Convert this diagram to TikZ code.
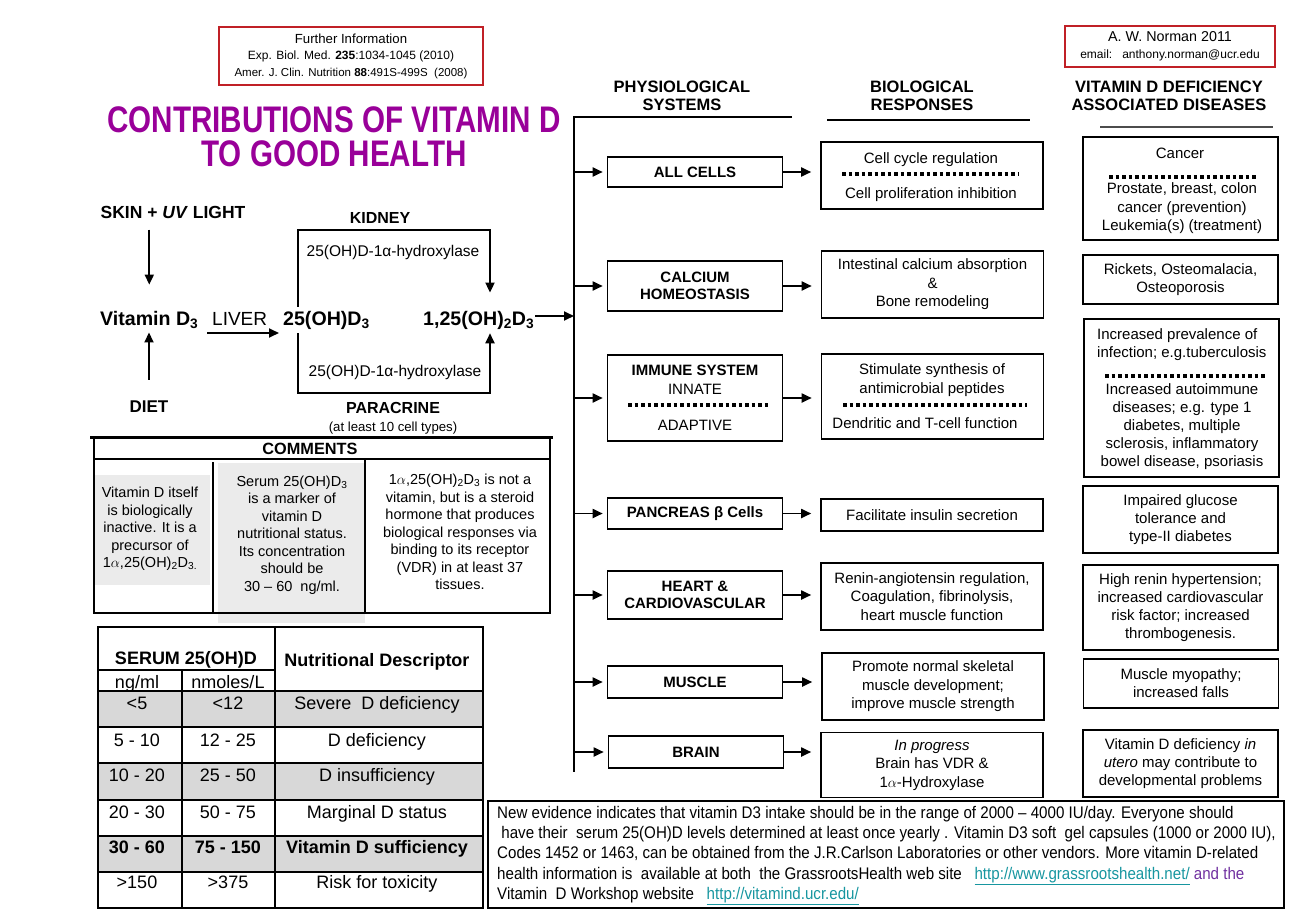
\documentclass[tikz,border=0pt]{standalone}
\usepackage{fontspec}
\setmainfont{Liberation Sans}
\newfontfamily\narrowfont[FakeStretch=0.8]{Liberation Sans}
\newfontfamily\notefont[FakeStretch=0.9]{Liberation Sans}
\usepackage{tikz}
\usetikzlibrary{arrows.meta, positioning, calc}
\definecolor{titlepurple}{RGB}{153,0,153}
\definecolor{framered}{RGB}{192,32,38}
\definecolor{linkteal}{RGB}{23,150,160}
\definecolor{notepurple}{RGB}{112,48,160}
\definecolor{rowgray}{RGB}{216,216,216}
\definecolor{cellgray}{RGB}{235,235,235}
\newcommand\dsub[1]{\textsubscript{#1}}
\newcommand\fsz[2]{\fontsize{#1}{#2}\selectfont}

\begin{document}
\begin{tikzpicture}[x=1pt, y=-1pt,
    sysbox/.style={draw, line width=1.6pt, minimum width=175pt, inner sep=0pt, align=center, font=\fsz{15}{17.5}\bfseries},
    respbox/.style={draw, line width=1.6pt, minimum width=222pt, inner sep=0pt, align=center, font=\fsz{15}{18.5}},
    disbox/.style={draw, line width=1.6pt, minimum width=195pt, inner sep=0pt, align=center, font=\fsz{15}{18}},
    feed/.style={line width=1.8pt, -{Triangle[length=10pt, width=9pt]}},
    dotrule/.style={line width=3.5pt, dash pattern=on 3.5pt off 3pt},
    colhead/.style={align=center, font=\fsz{16.5}{17.5}\bfseries},
    ln/.style={anchor=base, inner sep=0pt, font=\fsz{15}{18}},
    chem/.style={anchor=base west, inner sep=0pt, font=\fsz{19.6}{21}\bfseries},
    note/.style={align=center, inner sep=0pt, font=\fsz{14.5}{17.5}},
    cell/.style={anchor=base, inner sep=0pt, font=\fsz{18}{20}},
  ]
  \fill[white] (0,0) rectangle (1309,918);
  \useasboundingbox (0,0) rectangle (1309,918);

  % References and author
  \node[draw=framered, line width=2pt, minimum width=264pt, minimum height=58pt, align=center, font=\fsz{12}{16.5}] (refs) at (351,56)
    {{\fsz{13.2}{16.5}Further Information}\\Exp. Biol. Med. \textbf{235}:1034-1045 (2010)\\{\fsz{11.5}{16.5}Amer. J. Clin. Nutrition \textbf{88}:491S-499S\ \ (2008)}};
  \node[draw=framered, line width=2pt, minimum width=210pt, minimum height=41pt, align=center, font=\fsz{12}{17}] (author) at (1170,46)
    {{\fsz{14.3}{17}A. W. Norman 2011}\\email:\ \ \ anthony.norman@ucr.edu};

  % Title
  \node[align=center, text=titlepurple, font=\narrowfont\bfseries\fsz{37}{34}] (title) at (334,137)
    {CONTRIBUTIONS OF VITAMIN D\\TO GOOD HEALTH};

  % Column headings
  \node[colhead] (hsys) at (682,96) {PHYSIOLOGICAL\\SYSTEMS};
  \node[colhead] (hresp) at (922,96) {BIOLOGICAL\\RESPONSES};
  \node[colhead] (hdis) at (1169,96) {VITAMIN D DEFICIENCY\\ASSOCIATED DISEASES};
  \draw[line width=1.4pt] (827,120) -- (1030,120);
  \draw[line width=1.2pt, black!70] (1100,127) -- (1273,127);

  % Metabolism
  \node[font=\fsz{17.5}{20}\bfseries] (skin) at (173,212) {SKIN + \textit{UV} LIGHT};
  \node[chem] (vitd) at (100,325) {Vitamin D\dsub{3}};
  \node[anchor=base west, inner sep=0pt, font=\fsz{19}{21}] (liver) at (212,325) {LIVER};
  \node[chem] (hydr25) at (283,325) {25(OH)D\dsub{3}};
  \node[chem] (dihyd) at (423,325) {1,25(OH)\dsub{2}D\dsub{3}};
  \node[font=\fsz{17}{20}\bfseries] (diet) at (149,407) {DIET};
  \node[font=\fsz{16}{18}\bfseries] (kidney) at (380,218) {KIDNEY};
  \node[font=\fsz{15.5}{18}] (hydroxK) at (393,252) {25(OH)D-1α-hydroxylase};
  \node[font=\fsz{15.5}{18}] (hydroxP) at (395,372) {25(OH)D-1α-hydroxylase};
  \node[font=\fsz{16}{18}\bfseries] (paracrine) at (393,408) {PARACRINE};
  \node[font=\fsz{13.2}{15}] (celltypes) at (393,428) {(at least 10 cell types)};

  \coordinate (kidL) at (298,230);
  \coordinate (kidR) at (490,230);
  \coordinate (parL) at (298,393);
  \coordinate (parR) at (490,393);
  \coordinate (busTop) at (574,117);
  \coordinate (busBot) at (574,772);

  \draw[feed, shorten <=8pt, shorten >=26pt] (vitd.north |- skin.south) -- (vitd.north);
  \draw[feed, shorten <=18pt, shorten >=4pt] (diet.north) -- (diet.north |- vitd.south);
  \path (liver.base west) ++(-5,8) coordinate (livA);
  \draw[feed, shorten >=4pt] (livA) -- (livA -| hydr25.west);
  \draw[feed, shorten <=4pt, shorten >=18pt] (kidL |- hydr25.north) -- (kidL) -- (kidR) -- (kidR |- dihyd.north);
  \draw[feed, shorten <=4pt, shorten >=4pt] (parL |- hydr25.south) -- (parL) -- (parR) -- (parR |- dihyd.south);
  \path (dihyd.base east) ++(1,-9) coordinate (dihOut);
  \draw[feed] (dihOut) -- (dihOut -| busTop);
  \draw[line width=1.6pt] (792,117) -- (busTop) -- (busBot);

  % Comments
  \fill[cellgray] (95,475) rectangle (210,585);
  \fill[cellgray] (218,463) rectangle (365,623);
  \draw[line width=3pt] (90,437) -- (553,437);
  \draw[line width=1.6pt] (94,437) -- (94,613) -- (550,613) -- (550,437);
  \draw[line width=1.6pt] (94,459) -- (550,459);
  \draw[line width=1.6pt] (213,462) -- (213,612);
  \draw[line width=1.6pt] (365,459) -- (365,613);
  \node[font=\fsz{16.3}{18}\bfseries] (comments) at (310,449) {COMMENTS};
  \node[note] (note1) at (150,529) {Vitamin D itself\\is biologically\\inactive. It is a\\precursor of\\1$\alpha$,25(OH)\dsub{2}D\dsub{3.}};
  \node[note] (note2) at (292,535) {Serum 25(OH)D\dsub{3}\\is a marker of\\vitamin D\\nutritional status.\\Its concentration\\should be\\30 – 60\ \ ng/ml.};
  \node[note] (note3) at (460,532) {1$\alpha$,25(OH)\dsub{2}D\dsub{3} is not a\\vitamin, but is a steroid\\hormone that produces\\biological responses via\\binding to its receptor\\(VDR) in at least 37\\tissues.};

  % Serum table
  \foreach \yy in {691,763,836}
    \fill[rowgray] (98,\yy) rectangle (483,\yy+36);
  \draw[line width=1.5pt] (98,627) rectangle (483,908);
  \draw[line width=1.5pt] (275,627) -- (275,908);
  \draw[line width=1.5pt] (182,670) -- (182,908);
  \draw[line width=1.5pt] (98,670) -- (275,670);
  \foreach \yy in {691,727,763,800,836,872}
    \draw[line width=1.5pt] (98,\yy) -- (483,\yy);
  \node[cell, font=\fsz{18}{20}\bfseries] (serum) at (186,664) {SERUM 25(OH)D};
  \node[cell] (ngml) at (137,688) {ng/ml};
  \node[cell] (nmol) at (228,688) {nmoles/L};
  \node[cell, font=\fsz{18}{20}\bfseries] (descr) at (377,666) {Nutritional Descriptor};
  \foreach \ng/\nm/\desc/\yy/\wt in {<5/<12/Severe\ \ D deficiency/709/\mdseries,
      5 - 10/12 - 25/D deficiency/746/\mdseries,
      10 - 20/25 - 50/D insufficiency/781/\mdseries,
      20 - 30/50 - 75/Marginal D status/818/\mdseries,
      30 - 60/75 - 150/Vitamin D sufficiency/853/\bfseries,
      >150/>375/Risk for toxicity/888/\mdseries} {
    \node[cell, font=\fsz{18}{20}\wt] at (137,\yy) {\ng};
    \node[cell, font=\fsz{18}{20}\wt] at (228,\yy) {\nm};
    \node[cell, font=\fsz{18}{20}\wt] at (377,\yy) {\desc};
  }

  % Physiological systems
  \node[sysbox, minimum height=30pt] (allcells) at (695,172) {ALL CELLS};
  \node[sysbox, minimum height=50pt] (calcium) at (695,286) {CALCIUM\\HOMEOSTASIS};
  \node[sysbox, minimum height=86pt] (immune) at (695,398) {};
  \node[sysbox, minimum height=31pt] (pancreas) at (695,513.5) {PANCREAS β Cells};
  \node[sysbox, minimum height=48pt] (heart) at (695,595) {HEART \&\\CARDIOVASCULAR};
  \node[sysbox, minimum height=32pt] (muscle) at (695,682) {MUSCLE};
  \node[sysbox, minimum height=32pt] (brain) at (696,752) {BRAIN};
  \node[ln, font=\fsz{15}{18}\bfseries] at (695,375.5) {IMMUNE SYSTEM};
  \node[ln] at (695,394.5) {INNATE};
  \node[ln] at (695,430.5) {ADAPTIVE};
  \draw[dotrule] (628,405) -- (769,405);

  % Biological responses
  \node[respbox, minimum height=67pt] (cellcycle) at (932,175.5) {};
  \node[respbox, minimum height=67pt] (intestinal) at (932.5,284.5) {Intestinal calcium absorption\\\&\\Bone remodeling};
  \node[respbox, minimum height=85pt] (stimulate) at (932.5,396.5) {};
  \node[respbox, minimum height=32pt] (insulin) at (932,515) {Facilitate insulin secretion};
  \node[respbox, minimum height=67pt] (renin) at (932,596.5) {Renin-angiotensin regulation,\\Coagulation, fibrinolysis,\\heart muscle function};
  \node[respbox, minimum height=67pt] (promote) at (933,686.5) {Promote normal skeletal\\muscle development;\\improve muscle strength};
  \node[respbox, minimum height=65pt] (progress) at (932,765) {\textit{In progress}\\Brain has VDR \&\\1$\alpha$-Hydroxylase};
  \node[ln] at (931,163.5) {Cell cycle regulation};
  \node[ln] at (931,198.5) {Cell proliferation inhibition};
  \draw[dotrule] (842,174) -- (1018,174);
  \node[ln] at (932,374.5) {Stimulate synthesis of};
  \node[ln] at (932,393.5) {antimicrobial peptides};
  \node[ln] at (925,428.5) {Dendritic and T-cell function};
  \draw[dotrule] (843,405) -- (1027,405);

  % Deficiency diseases
  \node[disbox, minimum height=103pt] (cancer) at (1180.5,188.5) {};
  \node[disbox, minimum height=49pt] (rickets) at (1180.5,279.5) {Rickets, Osteomalacia,\\Osteoporosis};
  \node[disbox, minimum height=158pt] (infection) at (1181.5,398) {};
  \node[disbox, minimum height=67pt] (impaired) at (1180.5,519.5) {Impaired glucose\\tolerance and\\type-II diabetes};
  \node[disbox, minimum height=85pt] (hirenin) at (1180.5,607.5) {High renin hypertension;\\increased cardiovascular\\risk factor; increased\\thrombogenesis.};
  \node[disbox, minimum height=49pt] (myopathy) at (1181,683.5) {Muscle myopathy;\\increased falls};
  \node[disbox, minimum height=67pt] (utero) at (1180.5,763.5) {Vitamin D deficiency \textit{in}\\\textit{utero} may contribute to\\developmental problems};
  \node[ln] at (1180,158.5) {Cancer};
  \draw[dotrule] (1109,177) -- (1257,177);
  \node[ln, align=center] at (1182,193.5) {Prostate, breast, colon};
  \node[ln] at (1182,212.5) {cancer (prevention)};
  \node[ln] at (1182,230.5) {Leukemia(s) (treatment)};
  \node[ln, anchor=base west] at (1097,339.5) {Increased prevalence of};
  \node[ln, anchor=base west] at (1097,357.5) {infection; e.g.tuberculosis};
  \draw[dotrule] (1105,376) -- (1267,376);
  \foreach \txt [count=\i] in {Increased autoimmune, diseases; e.g. type 1, {diabetes, multiple}, {sclerosis, inflammatory}, {bowel disease, psoriasis}}
    \node[ln] at (1182,376.5+18*\i) {\txt};

  % Connectors
  \foreach \sys/\resp in {allcells/cellcycle, calcium/intestinal, immune/stimulate, pancreas/insulin, heart/renin, muscle/promote, brain/progress} {
    \draw[feed, shorten >=4pt] (busTop |- \sys) -- (\sys.west);
    \draw[feed, shorten >=9pt] (\sys.east) -- (\sys.east -| \resp.west);
  }

  % Note
  \draw[line width=1.8pt] (488,801) rectangle (1284,908);
  \node[anchor=north west, align=left, inner sep=0pt, font=\notefont\fsz{16.8}{20.3}] (advice) at (497,806)
    {New evidence indicates that vitamin D3 intake should be in the range of 2000 – 4000 IU/day. Everyone should\\
    \ have their\ \ serum 25(OH)D levels determined at least once yearly . Vitamin D3 soft\ \ gel capsules (1000 or 2000 IU),\\
    Codes 1452 or 1463, can be obtained from the J.R.Carlson Laboratories or other vendors. More vitamin D-related\\
    health information is\ \ available at both\ \ the GrassrootsHealth web site\ \ \ \textcolor{linkteal}{\underline{http://www.grassrootshealth.net/}} \textcolor{notepurple}{and the}\\
    Vitamin\ \ D Workshop website\ \ \ \textcolor{linkteal}{\underline{http://vitamind.ucr.edu/}}};
\end{tikzpicture}
\end{document}
